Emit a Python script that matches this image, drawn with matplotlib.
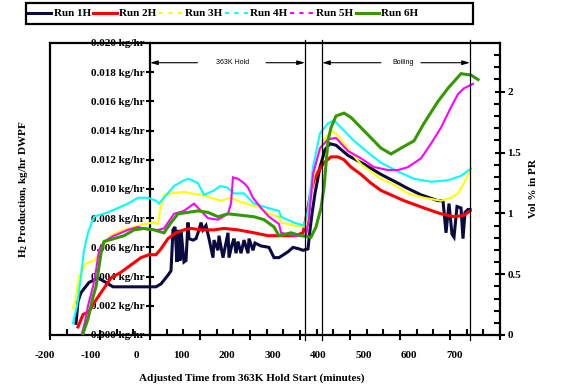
import matplotlib
matplotlib.use("Agg")
import matplotlib.pyplot as plt
from matplotlib.lines import Line2D
from matplotlib.patches import Rectangle

plt.rcParams['font.family'] = ['Liberation Serif', 'DejaVu Serif']
plt.rcParams['font.weight'] = 'bold'
plt.rcParams['mathtext.fontset'] = 'custom'
plt.rcParams['mathtext.rm'] = 'Liberation Serif:bold'
plt.rcParams['mathtext.bf'] = 'Liberation Serif:bold'

# ---------------- data (minutes, kg/hr) ----------------
run1_x = [-148, -144, -138, -122, -104, -88, -74, -44, -18, 12, 22, 36, 42, 46, 50, 54, 56, 60, 62,
          68, 72, 76, 78, 86, 92, 98, 102, 106, 112, 118, 126, 128, 136, 138, 146, 156, 158, 164,
          168, 172, 176, 182, 188, 196, 198, 206, 210, 222, 238, 248, 258, 276, 286, 298, 306, 316,
          320, 324, 330, 340, 350, 360, 372, 396, 428, 462, 496, 512, 542, 576, 586, 592, 598, 604,
          608, 614, 622, 626, 630, 636, 640]
run1_y = [0.0008, 0.0023, 0.0029, 0.0036, 0.0039, 0.0036, 0.0033, 0.0033, 0.0033, 0.0033, 0.0035,
          0.0041, 0.0044, 0.0072, 0.0074, 0.0050, 0.0072, 0.0051, 0.0072, 0.0050, 0.0051, 0.0077,
          0.0066, 0.0065, 0.0066, 0.0072, 0.0077, 0.0072, 0.0075, 0.0066, 0.0053, 0.0065, 0.0058,
          0.0068, 0.0053, 0.0070, 0.0053, 0.0062, 0.0066, 0.0056, 0.0064, 0.0056, 0.0065, 0.0056,
          0.0066, 0.0058, 0.0063, 0.0061, 0.0060, 0.0053, 0.0053, 0.0057, 0.0060, 0.0059, 0.0058,
          0.0059, 0.0072, 0.0083, 0.0097, 0.0115, 0.0127, 0.0131, 0.0130, 0.0123, 0.0117, 0.0110,
          0.0104, 0.0101, 0.0096, 0.0092, 0.0092, 0.0070, 0.0090, 0.0069, 0.0067, 0.0088, 0.0087,
          0.0066, 0.0084, 0.0086, 0.0086]

run2_x = [-144, -134, -122, -112, -94, -78, -58, -38, -18, -2, 12, 22, 36, 52, 68, 82, 102, 128, 148,
          176, 208, 236, 258, 290, 306, 312, 320, 328, 338, 348, 362, 376, 388, 402, 422, 442, 462,
          508, 548, 582, 608, 628, 640]
run2_y = [0.00055, 0.0014, 0.0016, 0.0022, 0.0031, 0.0039, 0.0043, 0.0048, 0.0053, 0.0055, 0.0055,
          0.0059, 0.0066, 0.0070, 0.0072, 0.0073, 0.0072, 0.0072, 0.0073, 0.0072, 0.0070, 0.0068,
          0.0068, 0.0068, 0.0070, 0.0080, 0.0095, 0.0106, 0.0113, 0.0118, 0.0122, 0.0122, 0.0120,
          0.0115, 0.0110, 0.0104, 0.0099, 0.0092, 0.0087, 0.0083, 0.0081, 0.0082, 0.0085]

run3_x = [-154, -148, -142, -128, -112, -102, -94, -78, -54, -32, -12, 8, 16, 20, 28, 42, 68, 82, 102,
          122, 142, 162, 182, 202, 222, 238, 258, 262, 288, 312, 320, 330, 345, 362, 372, 388, 402,
          422, 442, 462, 488, 516, 548, 582, 602, 616, 628, 640]
run3_y = [0.0018, 0.0025, 0.0040, 0.0049, 0.0051, 0.0055, 0.0061, 0.0068, 0.0072, 0.0074, 0.0076,
          0.0077, 0.0076, 0.0085, 0.0096, 0.0097, 0.0098, 0.0097, 0.0096, 0.0094, 0.0092, 0.0094,
          0.0091, 0.0089, 0.0087, 0.0083, 0.0081, 0.0077, 0.0075, 0.0074, 0.0090, 0.0115, 0.0132,
          0.0140, 0.0138, 0.0131, 0.0125, 0.0117, 0.0112, 0.0107, 0.0103, 0.0097, 0.0094, 0.0092,
          0.0094, 0.0097, 0.0104, 0.0112]

run4_x = [-154, -146, -138, -132, -124, -112, -84, -64, -44, -24, -4, 12, 18, 28, 48, 68, 78, 96, 108,
          128, 140, 155, 168, 188, 208, 236, 258, 262, 288, 308, 316, 326, 340, 356, 368, 388, 408,
          436, 462, 496, 528, 562, 596, 622, 642]
run4_y = [0.0008, 0.0020, 0.0040, 0.0058, 0.0070, 0.0081, 0.0084, 0.0087, 0.0090, 0.0094, 0.0094,
          0.0092, 0.0090, 0.0094, 0.0102, 0.0106, 0.0107, 0.0104, 0.0096, 0.0099, 0.0102, 0.0101,
          0.0097, 0.0097, 0.0090, 0.0087, 0.0085, 0.0081, 0.0077, 0.0075, 0.0085, 0.0115, 0.0138,
          0.0145, 0.0147, 0.0140, 0.0133, 0.0125, 0.0118, 0.0112, 0.0107, 0.0105, 0.0106, 0.0109,
          0.0114]

run5_x = [-136, -130, -124, -114, -108, -102, -92, -72, -44, -24, -2, 16, 28, 48, 68, 88, 102, 116,
          136, 156, 162, 166, 176, 188, 196, 206, 222, 238, 258, 262, 288, 312, 318, 326, 340, 356,
          372, 396, 422, 448, 476, 496, 516, 542, 562, 582, 602, 616, 628, 646]
run5_y = [0.0001, 0.0009, 0.0020, 0.0033, 0.0044, 0.0058, 0.0064, 0.0068, 0.0072, 0.0074, 0.0072,
          0.0072, 0.0073, 0.0083, 0.0085, 0.0090, 0.0085, 0.0080, 0.0079, 0.0083, 0.0090, 0.0108,
          0.0107, 0.0104, 0.0101, 0.0094, 0.0087, 0.0081, 0.0076, 0.0070, 0.0068, 0.0068, 0.0080,
          0.0110, 0.0128, 0.0134, 0.0135, 0.0126, 0.0121, 0.0115, 0.0113, 0.0113, 0.0115, 0.0121,
          0.0131, 0.0142, 0.0156, 0.0165, 0.0169, 0.0172]

run6_x = [-134, -124, -114, -108, -98, -92, -72, -52, -32, -12, 8, 28, 42, 56, 76, 96, 116, 136, 156,
          182, 208, 228, 248, 258, 282, 302, 322, 332, 342, 348, 356, 362, 372, 388, 402, 422, 442,
          462, 482, 502, 528, 548, 576, 596, 622, 642, 656]
run6_y = [0.0001, 0.0011, 0.0026, 0.0033, 0.0056, 0.0064, 0.0066, 0.0068, 0.0072, 0.0073, 0.0072,
          0.0070, 0.0077, 0.0083, 0.0084, 0.0085, 0.0084, 0.0081, 0.0083, 0.0082, 0.0081, 0.0079,
          0.0074, 0.0068, 0.0070, 0.0068, 0.0067, 0.0074, 0.0087, 0.0101, 0.0133, 0.0142, 0.0150,
          0.0152, 0.0149, 0.0142, 0.0135, 0.0128, 0.0124, 0.0128, 0.0133, 0.0145, 0.0160, 0.0169,
          0.0179, 0.0178, 0.0175]

run_labels = ['Run 1H', 'Run 2H', 'Run 3H', 'Run 4H', 'Run 5H', 'Run 6H']
run_colors = ['#0a0a40', '#ff0000', '#ffff00', '#00ffff', '#ff00ff', '#339900']
run_widths = [2.2, 2.2, 1.5, 1.5, 1.5, 2.2]
run_legend_styles = ['-', '-', (0, (2, 2.5)), (0, (2, 2.5)), (0, (2, 2.5)), '-']

x_tick_labels = ['-200', '-100', '0', '100', '200', '300', '400', '500', '600', '700']
y_left_ticks = [0.000, 0.002, 0.004, 0.006, 0.008, 0.010, 0.012, 0.014, 0.016, 0.018, 0.020]
y_right_ticks = [0, 0.5, 1, 1.5, 2]
y_right_labels = ['0', '0.5', '1', '1.5', '2']
phase_lines = [310, 344, 640]
hold_span = (0, 310)
boil_span = (344, 640)

# ---------------- figure ----------------
W, H = 574, 392
fig = plt.figure(figsize=(W / 100, H / 100), dpi=100)
ax = fig.add_axes([50 / W, 1 - 335 / H, 450 / W, 292 / H])
ax.set_xlim(-200, 700)
ax.set_ylim(0, 0.020)

xs = [run1_x, run2_x, run3_x, run4_x, run5_x, run6_x]
ys = [run1_y, run2_y, run3_y, run4_y, run5_y, run6_y]
for x, y, c, w in zip(xs, ys, run_colors, run_widths):
    ax.plot(x, y, color=c, lw=w, solid_joinstyle='miter', zorder=3)

# spines
for s in ['top', 'bottom', 'right']:
    ax.spines[s].set_linewidth(1.6)
ax.spines['left'].set_position(('data', 0))
ax.spines['left'].set_linewidth(1.6)
ax.plot([0, 0], [0, 1], transform=ax.transAxes, color='k', lw=1.6, clip_on=False, zorder=5)

# left ticks
ax.set_yticks(y_left_ticks)
ax.set_yticklabels(['%.3f kg/hr' % v for v in y_left_ticks], fontsize=8, fontweight='bold')
ax.tick_params(axis='y', direction='inout', length=6, width=1.5, pad=1)

# x ticks
ax.set_xticks(range(-200, 701, 100))
ax.set_xticks([m + k * 100 / 3 for m in range(-200, 700, 100) for k in (1, 2)], minor=True)
ax.set_xticklabels([])
ax.tick_params(axis='x', which='major', direction='inout', length=7, width=1.5)
ax.tick_params(axis='x', which='minor', direction='in', length=4, width=1.5)
for i, lab in enumerate(x_tick_labels):
    fig.text((45 + 45.5 * i) / W, 1 - 355 / H, lab, ha='center', va='center', fontsize=8, fontweight='bold')
fig.text(252 / W, 1 - 378 / H, 'Adjusted Time from 363K Hold Start (minutes)', ha='center', va='center',
         fontsize=8, fontweight='bold')

# right axis
ax2 = ax.twinx()
ax2.set_ylim(0, 2.4)
ax2.set_yticks(y_right_ticks)
ax2.set_yticklabels(y_right_labels, fontsize=8, fontweight='bold')
ax2.set_yticks([v / 10 for v in range(0, 24) if v % 5 != 0], minor=True)
ax2.tick_params(axis='y', which='major', direction='inout', length=7, width=1.5, pad=2)
ax2.tick_params(axis='y', which='minor', direction='in', length=4, width=1.5)
for s in ['top', 'bottom', 'right', 'left']:
    ax2.spines[s].set_visible(False)
fig.text(533 / W, 1 - 189 / H, 'Vol % in PR', rotation=90, ha='center', va='center', fontsize=8, fontweight='bold')
fig.text(24 / W, 1 - 189 / H, r'H$_{\mathbf{2}}$ Production, kg/hr DWPF', rotation=90, ha='center', va='center',
         fontsize=8, fontweight='bold')

# phase lines
for xv in phase_lines:
    ax.axvline(xv, ymin=-0.017, ymax=1.01, color='k', lw=0.9, clip_on=False, zorder=4)

arr_y = 0.01865
aprops = dict(arrowstyle='-|>,head_length=0.45,head_width=0.13', color='k', lw=0.8, shrinkA=0, shrinkB=0)
ax.annotate('', xy=(hold_span[0], arr_y), xytext=(95, arr_y), arrowprops=aprops)
ax.annotate('', xy=(hold_span[1], arr_y), xytext=(232, arr_y), arrowprops=aprops)
ax.text(165, arr_y, '363K Hold', fontsize=5, family='Liberation Sans', fontweight='normal', ha='center', va='center')
ax.annotate('', xy=(boil_span[0], arr_y), xytext=(462, arr_y), arrowprops=aprops)
ax.annotate('', xy=(boil_span[1], arr_y), xytext=(542, arr_y), arrowprops=aprops)
ax.text(506, arr_y, 'Boiling', fontsize=5, family='Liberation Sans', fontweight='normal', ha='center', va='center')

# legend
fig.patches.append(Rectangle((26 / W, 1 - 24 / H), 447 / W, 21 / H, transform=fig.transFigure,
                             fill=False, edgecolor='k', lw=1.6))
handles = [Line2D([], [], color=c, lw=w, ls=ls) for c, w, ls in zip(run_colors, run_widths, run_legend_styles)]
fig.legend(handles, run_labels, loc='center left', bbox_to_anchor=(28 / W, 1 - 13.5 / H), ncol=6,
           frameon=False, fontsize=8, handlelength=2.1, handletextpad=0.2, columnspacing=0.25,
           borderpad=0, borderaxespad=0, prop={'weight': 'bold', 'size': 8})

fig.savefig('out.png', dpi=100)
